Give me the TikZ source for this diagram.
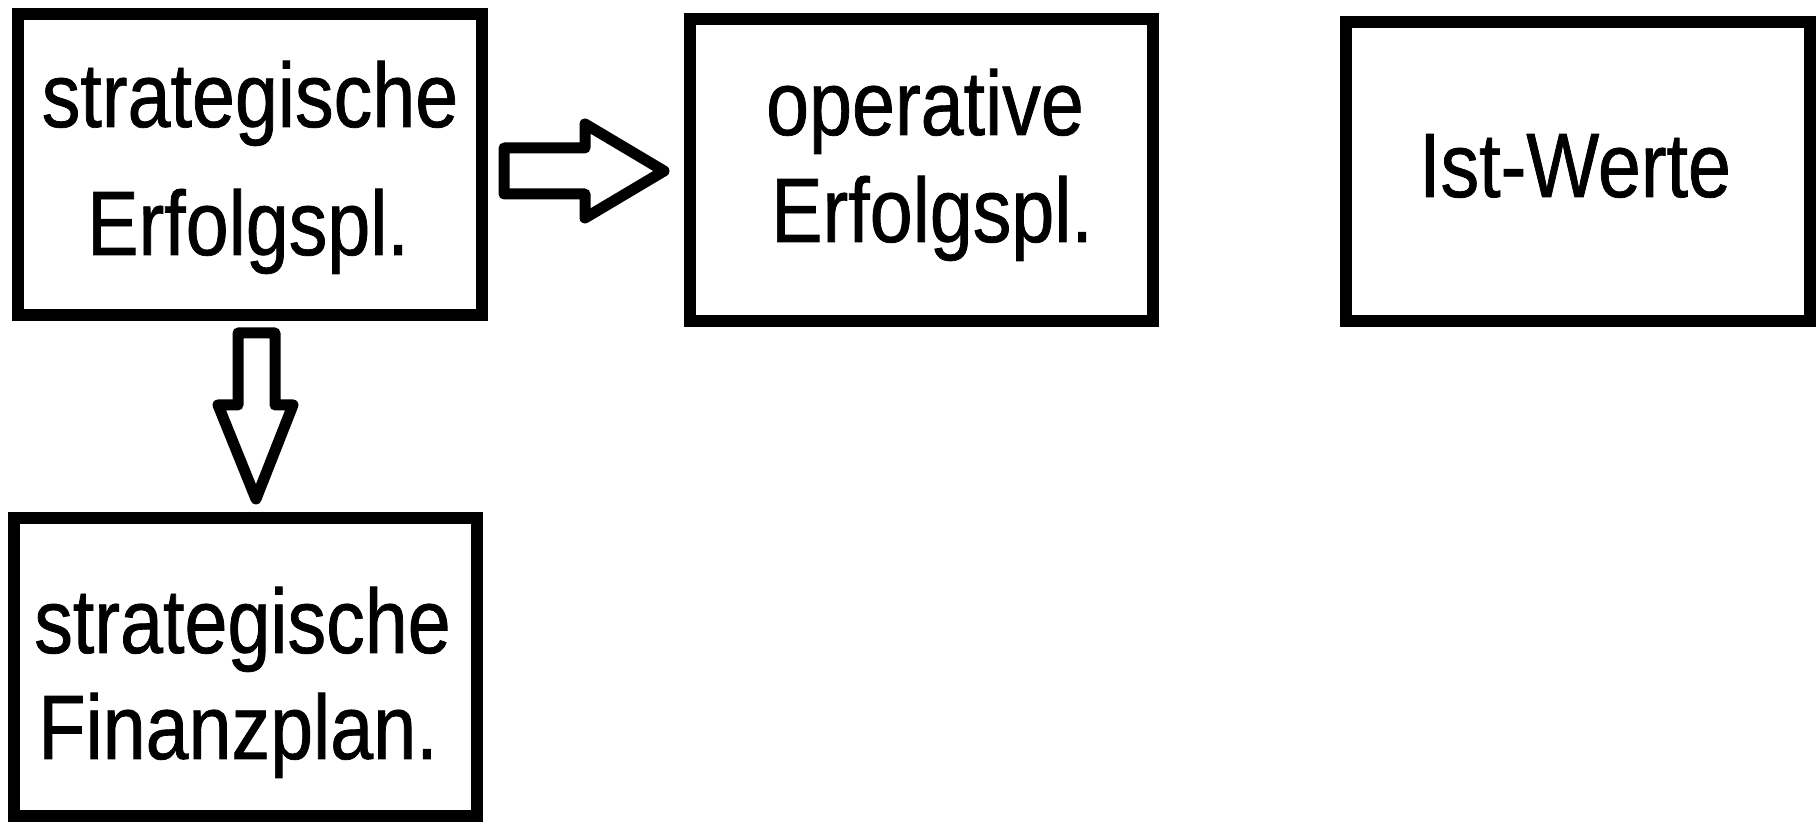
\documentclass[tikz,border=0pt]{standalone}
\usepackage{fontspec}
\newfontfamily\boxfont[FakeStretch=0.845,FakeBold=0.8]{Liberation Sans}
\begin{document}
\begin{tikzpicture}[x=0.5pt,y=-0.5pt,
  box/.style={draw=black, line width=6pt, inner sep=0pt, outer sep=0pt},
  txt/.style={font=\boxfont\fontsize{45.7}{50}\selectfont, anchor=base, inner sep=0pt, text=black},
  blockarrow/.style={draw=black, fill=white, line width=5.5pt, line join=round}]
\useasboundingbox (0,0) rectangle (1816,822);
% boxes
\node[box, minimum width=231.75pt, minimum height=150.5pt] (A) at (250,164.5) {};
\node[box, minimum width=231.5pt, minimum height=151pt] (B) at (921.5,170) {};
\node[box, minimum width=232pt, minimum height=149.5pt] (C) at (1578,171.5) {};
\node[box, minimum width=231.5pt, minimum height=149pt] (D) at (245.5,667) {};
% texts
\node[txt] (a1) at (250,127) {strategische};
\node[txt] (a2) at (248,255) {Erfolgspl.};
\node[txt] (b1) at (925,135) {operative};
\node[txt] (b2) at (932,242) {Erfolgspl.};
\node[txt] (c1) at (1575,197) {Ist-Werte};
\node[txt] (d1) at (242.5,653) {strategische};
\node[txt, anchor=base west] (d2) at (38,759) {Finanzplan.};
% block arrows
\draw[blockarrow] (504,148) -- (585,148) -- (585,124) -- (664,171) -- (585,218) -- (585,194) -- (504,194) -- cycle;
\draw[blockarrow] (238,333) -- (275,333) -- (275,405) -- (293,405) -- (256,499) -- (218,405) -- (238,405) -- cycle;
\end{tikzpicture}
\end{document}
